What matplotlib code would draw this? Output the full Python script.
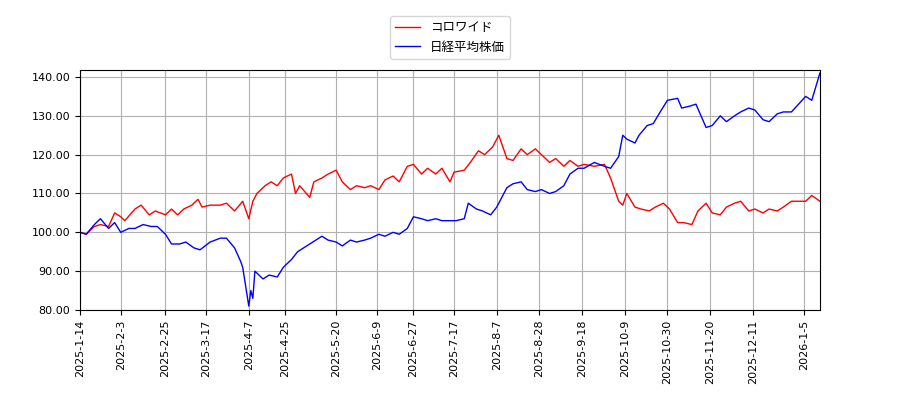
import matplotlib
matplotlib.use("Agg")
import matplotlib.pyplot as plt
import matplotlib.dates as mdates
import pandas as pd

plt.rcParams['font.family'] = ['Noto Sans CJK JP', 'DejaVu Sans']

red_dates = ["2025-01-14","2025-01-17","2025-01-21","2025-01-24","2025-01-28","2025-01-31","2025-02-03","2025-02-05","2025-02-10","2025-02-13","2025-02-17","2025-02-20","2025-02-25","2025-02-28","2025-03-03","2025-03-06","2025-03-10","2025-03-13","2025-03-15","2025-03-19","2025-03-24","2025-03-27","2025-03-31","2025-04-04","2025-04-07","2025-04-09","2025-04-11","2025-04-15","2025-04-18","2025-04-21","2025-04-24","2025-04-28","2025-04-30","2025-05-02","2025-05-07","2025-05-09","2025-05-13","2025-05-16","2025-05-20","2025-05-23","2025-05-27","2025-05-30","2025-06-03","2025-06-06","2025-06-10","2025-06-13","2025-06-17","2025-06-20","2025-06-24","2025-06-27","2025-07-01","2025-07-04","2025-07-08","2025-07-11","2025-07-15","2025-07-17","2025-07-22","2025-07-25","2025-07-29","2025-08-01","2025-08-05","2025-08-08","2025-08-12","2025-08-15","2025-08-19","2025-08-22","2025-08-26","2025-08-29","2025-09-02","2025-09-05","2025-09-09","2025-09-12","2025-09-16","2025-09-19","2025-09-24","2025-09-29","2025-10-02","2025-10-06","2025-10-08","2025-10-10","2025-10-14","2025-10-17","2025-10-21","2025-10-24","2025-10-28","2025-10-31","2025-11-04","2025-11-07","2025-11-11","2025-11-14","2025-11-18","2025-11-21","2025-11-25","2025-11-28","2025-12-02","2025-12-05","2025-12-09","2025-12-12","2025-12-16","2025-12-19","2025-12-23","2025-12-26","2025-12-30","2026-01-06","2026-01-09","2026-01-13"]
red_values = [100,99.5,101.5,102,101.5,105,104,103,106,107,104.5,105.5,104.5,106,104.5,106,107,108.5,106.5,107,107,107.5,105.5,108,103.5,108,110,112,113,112,114,115,110,112,109,113,114,115,116,113,111,112,111.5,112,111,113.5,114.5,113,117,117.5,115,116.5,115,116.5,113,115.5,116,118,121,120,122,125,119,118.5,121.5,120,121.5,120,118,119,117,118.5,117,117.5,117,117.5,114,108,107,110,106.5,106,105.5,106.5,107.5,106,102.5,102.5,102,105.5,107.5,105,104.5,106.5,107.5,108,105.5,106,105,106,105.5,106.5,108,108,109.5,108]

blue_dates = ["2025-01-14","2025-01-17","2025-01-21","2025-01-24","2025-01-28","2025-01-31","2025-02-03","2025-02-07","2025-02-10","2025-02-14","2025-02-18","2025-02-21","2025-02-25","2025-02-28","2025-03-04","2025-03-07","2025-03-11","2025-03-14","2025-03-19","2025-03-24","2025-03-27","2025-03-31","2025-04-03","2025-04-04","2025-04-07","2025-04-08","2025-04-09","2025-04-10","2025-04-14","2025-04-17","2025-04-21","2025-04-24","2025-04-28","2025-05-01","2025-05-07","2025-05-13","2025-05-16","2025-05-20","2025-05-23","2025-05-27","2025-05-30","2025-06-03","2025-06-06","2025-06-10","2025-06-13","2025-06-17","2025-06-20","2025-06-24","2025-06-27","2025-07-01","2025-07-04","2025-07-08","2025-07-11","2025-07-15","2025-07-18","2025-07-22","2025-07-24","2025-07-28","2025-07-31","2025-08-04","2025-08-07","2025-08-12","2025-08-15","2025-08-19","2025-08-22","2025-08-26","2025-08-29","2025-09-02","2025-09-05","2025-09-09","2025-09-12","2025-09-16","2025-09-19","2025-09-24","2025-09-29","2025-10-02","2025-10-06","2025-10-08","2025-10-10","2025-10-14","2025-10-16","2025-10-20","2025-10-23","2025-10-27","2025-10-30","2025-11-04","2025-11-06","2025-11-10","2025-11-13","2025-11-18","2025-11-21","2025-11-25","2025-11-28","2025-12-02","2025-12-05","2025-12-09","2025-12-12","2025-12-16","2025-12-19","2025-12-23","2025-12-26","2025-12-30","2026-01-06","2026-01-09","2026-01-13"]
blue_values = [100,99.5,102,103.5,101,102.5,100,101,101,102,101.5,101.5,99.5,97,97,97.5,96,95.5,97.5,98.5,98.5,96,92.5,91,81,85,83,90,88,89,88.5,91,93,95,97,99,98,97.5,96.5,98,97.5,98,98.5,99.5,99,100,99.5,101,104,103.5,103,103.5,103,103,103,103.5,107.5,106,105.5,104.5,106.5,111.5,112.5,113,111,110.5,111,110,110.5,112,115,116.5,116.5,118,117,116.5,119.5,125,124,123,125,127.5,128,131.5,134,134.5,132,132.5,133,127,127.5,130,128.5,130,131,132,131.5,129,128.5,130.5,131,131,135,134,141]

tick_labels = ["2025-1-14","2025-2-3","2025-2-25","2025-3-17","2025-4-7","2025-4-25","2025-5-20","2025-6-9","2025-6-27","2025-7-17","2025-8-7","2025-8-28","2025-9-18","2025-10-9","2025-10-30","2025-11-20","2025-12-11","2026-1-5"]

fig = plt.figure(figsize=(9, 4), dpi=100)
ax = fig.add_axes([0.089, 0.225, 0.822, 0.6])
ax.plot(pd.to_datetime(red_dates), red_values, color='red', lw=1, label='コロワイド')
ax.plot(pd.to_datetime(blue_dates), blue_values, color='blue', lw=1, label='日経平均株価')
ax.set_xlim(pd.Timestamp("2025-01-14"), pd.Timestamp("2026-01-13"))
ax.set_ylim(80, 141.8)
ax.set_yticks([80, 90, 100, 110, 120, 130, 140])
ax.yaxis.set_major_formatter(matplotlib.ticker.FormatStrFormatter('%.2f'))
ax.set_xticks(pd.to_datetime(tick_labels))
ax.set_xticklabels(tick_labels, rotation=90, fontsize=8, family='DejaVu Sans')
for l in ax.get_yticklabels():
    l.set_fontsize(8); l.set_family('DejaVu Sans')
ax.grid(True, color='#b0b0b0', lw=0.8)
fig.legend(loc='upper center', bbox_to_anchor=(0.5, 0.975), fontsize=9)
fig.savefig('out.png')
